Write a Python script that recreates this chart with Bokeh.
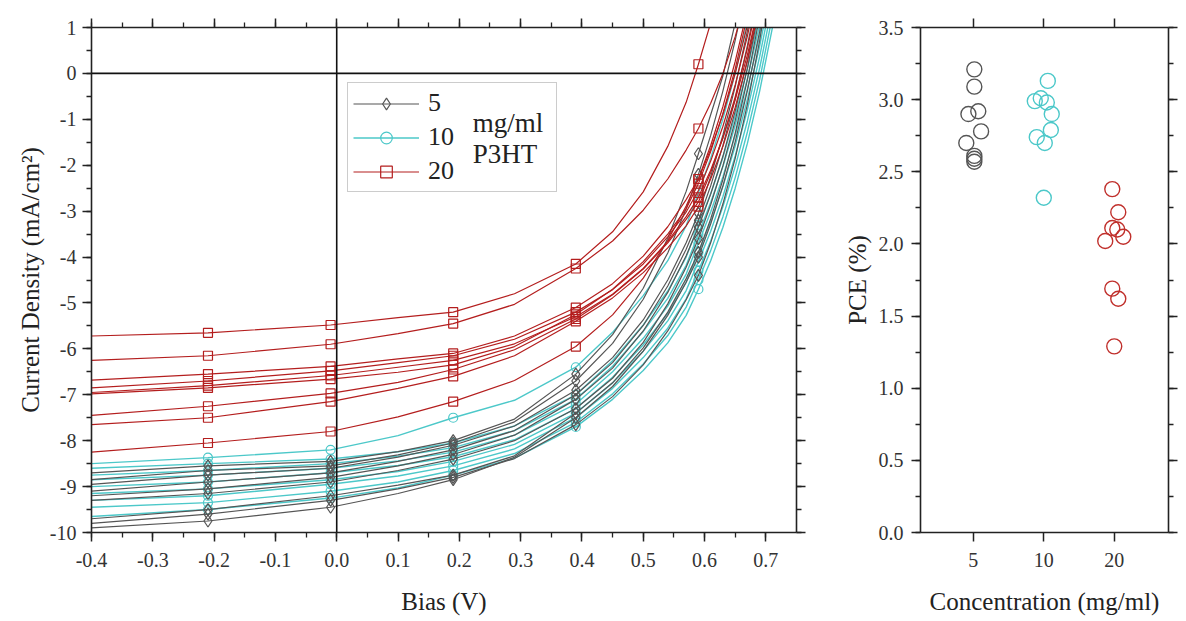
from bokeh.plotting import figure
from bokeh.models import (Span, Legend, LegendItem, Label, LinearAxis, FixedTicker,
                          SingleIntervalTicker, PrintfTickFormatter, Range1d,
                          CustomLabelingPolicy)
from bokeh.layouts import row
from bokeh.embed import file_html
from bokeh.resources import INLINE

# ---------------- data ----------------
bias = [-0.40, -0.21, -0.01, 0.10, 0.19, 0.29, 0.39, 0.45, 0.50, 0.54, 0.57,
        0.59, 0.61, 0.63, 0.65, 0.67, 0.69, 0.71, 0.73]
marker_bias = [-0.21, -0.01, 0.19, 0.39, 0.59]

# 5 mg/ml P3HT J-V curves (mA/cm2)
jv_5 = [
    [-8.70, -8.55, -8.45, -8.24, -8.00, -7.53, -6.55, -5.69, -4.68, -3.59, -2.57, -1.75, -0.90, -0.05, 1.10],
    [-8.85, -8.65, -8.55, -8.31, -8.05, -7.59, -6.70, -5.88, -4.92, -3.91, -2.95, -2.20, -1.35, -0.38, 0.72, 1.97],
    [-8.95, -8.75, -8.60, -8.36, -8.10, -7.68, -6.90, -6.19, -5.37, -4.50, -3.69, -3.05, -2.25, -1.34, -0.29, 0.93, 2.33],
    [-9.10, -8.90, -8.70, -8.45, -8.20, -7.78, -7.00, -6.30, -5.49, -4.63, -3.83, -3.20, -2.45, -1.57, -0.56, 0.61, 1.95],
    [-9.20, -9.05, -8.80, -8.55, -8.30, -7.88, -7.10, -6.42, -5.61, -4.77, -3.97, -3.35, -2.63, -1.80, -0.82, 0.30, 1.59],
    [-9.30, -9.15, -8.90, -8.65, -8.40, -8.00, -7.30, -6.64, -5.86, -5.02, -4.22, -3.60, -2.86, -2.01, -1.03, 0.12, 1.45],
    [-9.70, -9.50, -9.20, -8.97, -8.75, -8.33, -7.40, -6.74, -5.98, -5.20, -4.47, -3.90, -3.17, -2.31, -1.30, -0.13, 1.25],
    [-9.80, -9.60, -9.30, -9.05, -8.80, -8.39, -7.65, -7.04, -6.35, -5.61, -4.93, -4.40, -3.69, -2.84, -1.85, -0.67, 0.72, 2.36],
    [-9.90, -9.75, -9.45, -9.15, -8.85, -8.36, -7.50, -6.82, -6.05, -5.27, -4.55, -4.00, -3.28, -2.45, -1.49, -0.37, 0.92, 2.43],
]
# 10 mg/ml
jv_10 = [
    [-8.50, -8.37, -8.20, -7.89, -7.50, -7.12, -6.40, -5.64, -4.84, -4.08, -3.32, -2.60, -1.85, -0.99, 0.00, 1.14],
    [-8.60, -8.50, -8.40, -8.24, -8.05, -7.68, -7.00, -6.26, -5.48, -4.74, -4.00, -3.30, -2.62, -1.83, -0.92, 0.11, 1.29],
    [-8.75, -8.65, -8.50, -8.34, -8.15, -7.78, -7.10, -6.38, -5.62, -4.90, -4.18, -3.50, -2.81, -2.03, -1.13, -0.11, 1.06],
    [-8.85, -8.75, -8.60, -8.44, -8.25, -7.88, -7.20, -6.50, -5.77, -5.07, -4.37, -3.70, -3.02, -2.25, -1.35, -0.33, 0.84, 2.17],
    [-9.00, -8.90, -8.70, -8.54, -8.35, -7.98, -7.30, -6.62, -5.91, -5.23, -4.55, -3.90, -3.23, -2.46, -1.58, -0.56, 0.60, 1.95],
    [-9.15, -9.05, -8.85, -8.67, -8.45, -8.08, -7.40, -6.74, -6.05, -5.39, -4.73, -4.10, -3.44, -2.68, -1.80, -0.79, 0.37, 1.71],
    [-9.30, -9.20, -8.95, -8.77, -8.55, -8.18, -7.50, -6.86, -6.19, -5.55, -4.91, -4.30, -3.65, -2.90, -2.03, -1.03, 0.12, 1.45],
    [-9.45, -9.35, -9.10, -8.90, -8.65, -8.28, -7.60, -6.98, -6.33, -5.71, -5.09, -4.50, -3.86, -3.12, -2.27, -1.27, -0.13, 1.20],
    [-9.65, -9.50, -9.25, -9.03, -8.75, -8.38, -7.70, -7.10, -6.47, -5.87, -5.27, -4.70, -4.08, -3.35, -2.50, -1.52, -0.38, 0.95, 2.49],
]
# 20 mg/ml
jv_20 = [
    [-5.72, -5.65, -5.48, -5.32, -5.20, -4.80, -4.15, -3.45, -2.58, -1.59, -0.63, 0.20, 1.10],
    [-6.25, -6.15, -5.90, -5.67, -5.45, -5.03, -4.25, -3.65, -2.98, -2.30, -1.67, -1.20, -0.65, 0.00, 0.80, 1.75],
    [-6.68, -6.55, -6.38, -6.22, -6.10, -5.72, -5.10, -4.58, -3.98, -3.34, -2.75, -2.30, -1.65, -0.89, 0.00, 1.05],
    [-6.85, -6.70, -6.48, -6.30, -6.15, -5.79, -5.20, -4.71, -4.15, -3.56, -3.02, -2.55, -1.91, -1.15, -0.25, 0.82, 2.10],
    [-6.95, -6.80, -6.58, -6.40, -6.25, -5.89, -5.30, -4.81, -4.25, -3.66, -3.12, -2.70, -2.11, -1.40, -0.57, 0.41, 1.58],
    [-6.98, -6.85, -6.66, -6.51, -6.35, -5.95, -5.25, -4.70, -4.10, -3.50, -2.95, -2.40, -1.70, -0.87, 0.10, 1.26],
    [-7.45, -7.25, -6.97, -6.73, -6.45, -6.02, -5.35, -4.82, -4.26, -3.69, -3.18, -2.80, -2.16, -1.40, -0.51, 0.55, 1.81],
    [-7.65, -7.50, -7.15, -6.86, -6.60, -6.15, -5.40, -4.89, -4.34, -3.80, -3.32, -2.90, -2.30, -1.59, -0.74, 0.27, 1.47],
    [-8.25, -8.05, -7.80, -7.48, -7.15, -6.69, -5.95, -5.26, -4.46, -3.64, -2.89, -2.30, -1.57, -0.72, 0.26, 1.39],
]

concentrations = ["5", "10", "20"]
legend_note = ["mg/ml", "P3HT"]
pce_5 = [3.21, 3.09, 2.92, 2.90, 2.78, 2.70, 2.61, 2.59, 2.57]
pce_10 = [3.13, 3.01, 2.99, 2.98, 2.90, 2.79, 2.74, 2.70, 2.32]
pce_20 = [2.38, 2.22, 2.11, 2.10, 2.05, 2.02, 1.69, 1.62, 1.29]
# horizontal scatter of the points around their category
jit_5 = [0.014, 0.014, 0.07, -0.07, 0.11, -0.10, 0.014, 0.014, 0.014]
jit_10 = [0.057, -0.043, -0.128, 0.043, 0.113, 0.10, -0.10, 0.014, 0.0]
jit_20 = [-0.028, 0.057, -0.028, 0.043, 0.128, -0.128, -0.028, 0.057, 0.0]

# ---------------- styles ----------------
SERIF = "Liberation Serif"
C_GRAY = "#555555"
C_CYAN = "#4cc8c9"
C_RED = "#b41e1e"
AX = "#222222"

HIDE_ALL = """
const r = indices.clone()
for (const i of indices) { r.unset(i) }
return r
"""


def style_axis(ax, show_labels=True, label_standoff=8):
    ax.axis_line_color = AX
    ax.axis_line_width = 1.6
    ax.major_tick_line_color = AX
    ax.major_tick_line_width = 1.5
    ax.major_tick_out = 9
    ax.major_tick_in = 0
    ax.minor_tick_line_color = AX
    ax.minor_tick_line_width = 1.3
    ax.minor_tick_out = 5
    ax.minor_tick_in = 0
    ax.major_label_text_font = SERIF
    ax.major_label_text_color = "#333333"
    if show_labels:
        ax.major_label_text_font_size = "20px"
        ax.major_label_standoff = label_standoff
    else:
        ax.major_label_text_font_size = "0px"
        ax.major_label_standoff = 0
        ax.major_label_policy = CustomLabelingPolicy(code=HIDE_ALL)
    ax.axis_label_text_font = SERIF
    ax.axis_label_text_font_size = "25px"
    ax.axis_label_text_font_style = "normal"
    ax.axis_label_text_color = "#222222"


# ---------------- left: J-V ----------------
p = figure(width=830, height=618, x_range=Range1d(-0.4, 0.75), y_range=Range1d(-10, 1),
           output_backend="svg", toolbar_location=None,
           min_border_left=91, min_border_right=34, min_border_top=27, min_border_bottom=86)
p.grid.visible = False
p.outline_line_color = None
p.background_fill_color = "white"

p.xaxis.ticker = SingleIntervalTicker(interval=0.1, num_minor_ticks=2)
p.yaxis.ticker = SingleIntervalTicker(interval=1, num_minor_ticks=2)
p.xaxis.formatter = PrintfTickFormatter(format="%.1f")
p.yaxis.formatter = PrintfTickFormatter(format="%d")
p.xaxis.axis_label = "Bias (V)"
p.yaxis.axis_label = "Current Density (mA/cm²)"
style_axis(p.xaxis[0], True, 11)
style_axis(p.yaxis[0], True, 6)
p.xaxis.axis_label_standoff = 18
p.yaxis.axis_label_standoff = 3

top = LinearAxis(ticker=SingleIntervalTicker(interval=0.1, num_minor_ticks=2))
right = LinearAxis(ticker=SingleIntervalTicker(interval=1, num_minor_ticks=2))
style_axis(top, False)
style_axis(right, False)
p.add_layout(top, "above")
p.add_layout(right, "right")

p.add_layout(Span(location=0, dimension="height", line_color="#111111", line_width=1.6))
p.add_layout(Span(location=0, dimension="width", line_color="#111111", line_width=1.6))


def draw_group(curves, color, marker, msize, lw):
    first = None
    for J in curves:
        xs = bias[:len(J)]
        lr = p.line(xs, J, line_color=color, line_width=lw)
        mx = [v for v in marker_bias if v in xs]
        my = [J[xs.index(v)] for v in mx]
        sr = p.scatter(mx, my, marker=marker, size=msize, line_color=color,
                       fill_color=None, line_width=1.2)
        if first is None:
            first = (lr, sr)
    return first


r10 = draw_group(jv_10, C_CYAN, "circle", 9, 1.4)
r5 = draw_group(jv_5, C_GRAY, "diamond", 12, 1.2)
r20 = draw_group(jv_20, C_RED, "square", 9, 1.2)

# side note of the legend, drawn under a transparent legend box
p.add_layout(Label(x=0.222, y=-1.09, text=legend_note[0], text_font=SERIF, text_font_size="27px",
                   text_baseline="middle", text_color="#222222"))
p.add_layout(Label(x=0.222, y=-1.75, text=legend_note[1], text_font=SERIF, text_font_size="27px",
                   text_baseline="middle", text_color="#222222"))

legend = Legend(items=[LegendItem(label=concentrations[0], renderers=list(r5)),
                       LegendItem(label=concentrations[1], renderers=list(r10)),
                       LegendItem(label=concentrations[2], renderers=list(r20))],
                location=(256, 340), orientation="vertical",
                label_text_font=SERIF, label_text_font_size="26px", label_text_color="#222222",
                glyph_width=66, glyph_height=29, label_height=29, label_width=123,
                label_standoff=9, spacing=4, padding=5, margin=0,
                border_line_color="#9a9a9a", border_line_width=1.2,
                background_fill_alpha=0.0)
p.add_layout(legend)

# ---------------- right: PCE ----------------
q = figure(width=351, height=618, x_range=Range1d(0.25, 3.77), y_range=Range1d(0, 3.5),
           output_backend="svg", toolbar_location=None,
           min_border_left=90, min_border_right=13, min_border_top=27, min_border_bottom=86)
q.grid.visible = False
q.outline_line_color = None
cat_pos = [1, 2, 3]
q.xaxis.ticker = FixedTicker(ticks=cat_pos)
q.xaxis.major_label_overrides = {cat_pos[i]: concentrations[i] for i in range(3)}
q.yaxis.ticker = SingleIntervalTicker(interval=0.5, num_minor_ticks=2)
q.yaxis.formatter = PrintfTickFormatter(format="%.1f")
q.xaxis.axis_label = "Concentration (mg/ml)"
q.yaxis.axis_label = "PCE (%)"
style_axis(q.xaxis[0], True, 11)
style_axis(q.yaxis[0], True, 8)
q.xaxis.axis_label_standoff = 18
q.yaxis.axis_label_standoff = 5
q.xaxis.minor_tick_line_color = None

qtop = LinearAxis(ticker=FixedTicker(ticks=cat_pos))
qright = LinearAxis(ticker=SingleIntervalTicker(interval=0.5, num_minor_ticks=2))
style_axis(qtop, False)
style_axis(qright, False)
qtop.minor_tick_line_color = None
q.add_layout(qtop, "above")
q.add_layout(qright, "right")

for pos, vals, jit, col in [(cat_pos[0], pce_5, jit_5, C_GRAY),
                            (cat_pos[1], pce_10, jit_10, C_CYAN),
                            (cat_pos[2], pce_20, jit_20, "#c0302c")]:
    q.scatter([pos + j for j in jit], vals, marker="circle", size=15,
              line_color=col, fill_color=None, line_width=1.4)

layout = row(p, q)
open("out.html", "w").write(file_html(layout, INLINE))
